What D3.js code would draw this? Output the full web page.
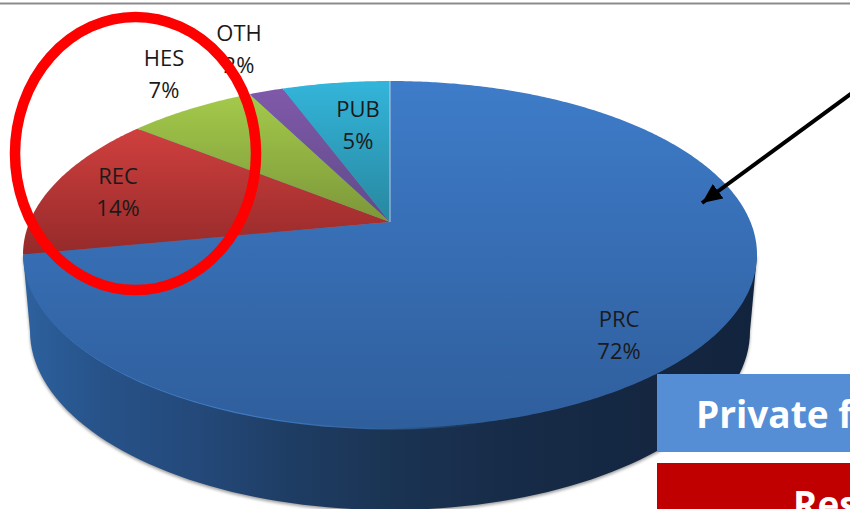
<!DOCTYPE html>
<html>
<head>
<meta charset="utf-8">
<script src="https://cdn.jsdelivr.net/npm/d3@7"></script>
<style>
  html, body { margin: 0; padding: 0; background: #fff; overflow: hidden; }
  svg { display: block; }
  text { font-family: "Open Sans", "Noto Sans", sans-serif; }
</style>
</head>
<body>
<svg width="850" height="509"></svg>
<script>
// slices, clockwise from 12 o'clock. shares are read off the wedge edges,
// shown are the printed labels
const categories = ["PRC", "REC", "HES", "OTH", "PUB"];
const shares = [72, 13.7, 6.8, 1.8, 5.7];
const shown = ["72%", "14%", "7%", "2%", "5%"];
const topColors = ["#3e7cc9", "#cf403e", "#a4ca4b", "#8059aa", "#33b5da"];
const lowColors = ["#2f5e9c", "#952a2a", "#7c9739", "#5f4a88", "#28879f"];

const svg = d3.select("svg");
const defs = svg.append("defs");

// the pie is tilted with perspective so the apex sits above the ellipse centre
const cx = 390, apexY = 222, backY = 81, frontY = 428, R = 360.5;
const k = (2 * apexY - backY - frontY) / (backY - frontY);
const b = backY * (1 + k) - apexY;
function project(angle) {
    const u = Math.sin(angle), v = Math.cos(angle), w = 1 + k * v;
    return [cx + R * u / w, (apexY + b * v) / w];
}
const rim = d3.line();

// side wall
const wall = defs.append("linearGradient").attr("id", "wall");
[[0, "#2d619e"], [0.1, "#27538a"], [0.236, "#24497a"], [0.375, "#1e3c62"],
 [0.51, "#1a3352"], [0.65, "#172c49"], [0.86, "#142640"], [1, "#12233d"]]
    .forEach(s => wall.append("stop").attr("offset", s[0]).attr("stop-color", s[1]));

const wallCy = 331, wallRx = 360, wallRy = 179;
const wallPoints = d3.range(0, 181, 2).map(a => {
    const t = a * Math.PI / 180;
    return [cx + wallRx * Math.cos(t), wallCy + wallRy * Math.sin(t)];
});
const topEdgeL = project(-Math.PI / 2 - 0.19), topEdgeR = project(Math.PI / 2 + 0.19);

defs.append("filter").attr("id", "soft").append("feGaussianBlur").attr("stdDeviation", 1.6);
defs.append("filter").attr("id", "softer").append("feGaussianBlur").attr("stdDeviation", 0.6);
const wallPath = rim([topEdgeR, ...wallPoints, topEdgeL]) + "Z";
svg.append("path").attr("d", wallPath).attr("fill", "#555").attr("opacity", 0.55)
    .attr("filter", "url(#soft)").attr("transform", "translate(0,2)");
svg.append("path").attr("d", wallPath).attr("fill", "url(#wall)");

// lighter bevel under the front rim, fading out past the middle
const bevelFill = defs.append("linearGradient").attr("id", "bevel");
[[0, "#4280cc", 1], [0.3, "#3f7cc4", 1], [0.5, "#3a72b8", 0.7], [0.62, "#3a72b8", 0]]
    .forEach(s => bevelFill.append("stop").attr("offset", s[0]).attr("stop-color", s[1]).attr("stop-opacity", s[2]));
const bevelPts = d3.range(0, 361, 3).map(a => project(a * Math.PI / 180));
svg.append("path").attr("d", rim(bevelPts) + "Z").attr("fill", "url(#bevel)")
    .attr("transform", "translate(1.5,1.5)").attr("filter", "url(#softer)");

// top face
const pie = d3.pie().sort(null);
pie(shares).forEach((d, i) => {
    const grad = defs.append("linearGradient").attr("id", "slice" + i)
        .attr("x1", 0).attr("y1", 0).attr("x2", 0).attr("y2", 1);
    grad.append("stop").attr("offset", 0).attr("stop-color", topColors[i]);
    grad.append("stop").attr("offset", 1).attr("stop-color", lowColors[i]);

    const steps = d3.range(d.startAngle, d.endAngle, 0.01).concat(d.endAngle);
    const pts = [[cx, apexY], ...steps.map(a => project(a))];
    svg.append("path").attr("d", rim(pts) + "Z").attr("fill", `url(#slice${i})`);
});
// thin light seam at the 12 o'clock edge
svg.append("line").attr("x1", cx).attr("x2", cx).attr("y1", backY).attr("y2", apexY)
    .attr("stroke", "#cfe3ee").attr("stroke-width", 1).attr("opacity", 0.8);

// slice labels
const labelPlace = { PRC: [619, 319], REC: [118, 176], HES: [164, 58], OTH: [239, 33], PUB: [358, 109] };
categories.forEach((c, i) => {
    const p = labelPlace[c];
    const t = svg.append("text").attr("text-anchor", "middle").attr("fill", "#1a1a1a")
        .attr("font-size", 22);
    t.append("tspan").attr("x", p[0]).attr("y", p[1] + 8).text(c);
    t.append("tspan").attr("x", p[0]).attr("y", p[1] + 40).text(shown[i]);
});

// slide furniture
svg.append("line").attr("x1", 0).attr("x2", 850).attr("y1", 3.5).attr("y2", 3.5)
    .attr("stroke", "#8c8c8c").attr("stroke-width", 2);

svg.append("ellipse").attr("cx", 135.5).attr("cy", 153.5).attr("rx", 120.5).attr("ry", 136.5)
    .attr("fill", "none").attr("stroke", "#fe0000").attr("stroke-width", 10.5);

defs.append("marker").attr("id", "head").attr("markerUnits", "userSpaceOnUse")
    .attr("markerWidth", 24).attr("markerHeight", 24).attr("refX", 20).attr("refY", 9)
    .attr("orient", "auto").append("path").attr("d", "M0,0L20,9L0,18Z").attr("fill", "#000");
svg.append("line").attr("x1", 852).attr("y1", 93).attr("x2", 702).attr("y2", 203)
    .attr("stroke", "#000").attr("stroke-width", 4).attr("marker-end", "url(#head)");

svg.append("rect").attr("x", 657).attr("y", 374).attr("width", 193).attr("height", 78).attr("fill", "#558ed5");
svg.append("text").attr("x", 696).attr("y", 428).attr("fill", "#fff")
    .attr("font-size", 37).attr("font-weight", 700).text("Private f");
svg.append("rect").attr("x", 657).attr("y", 463).attr("width", 193).attr("height", 46).attr("fill", "#c00000");
svg.append("text").attr("x", 793).attr("y", 518).attr("fill", "#fff")
    .attr("font-size", 37).attr("font-weight", 700).text("Res");
</script>
</body>
</html>
